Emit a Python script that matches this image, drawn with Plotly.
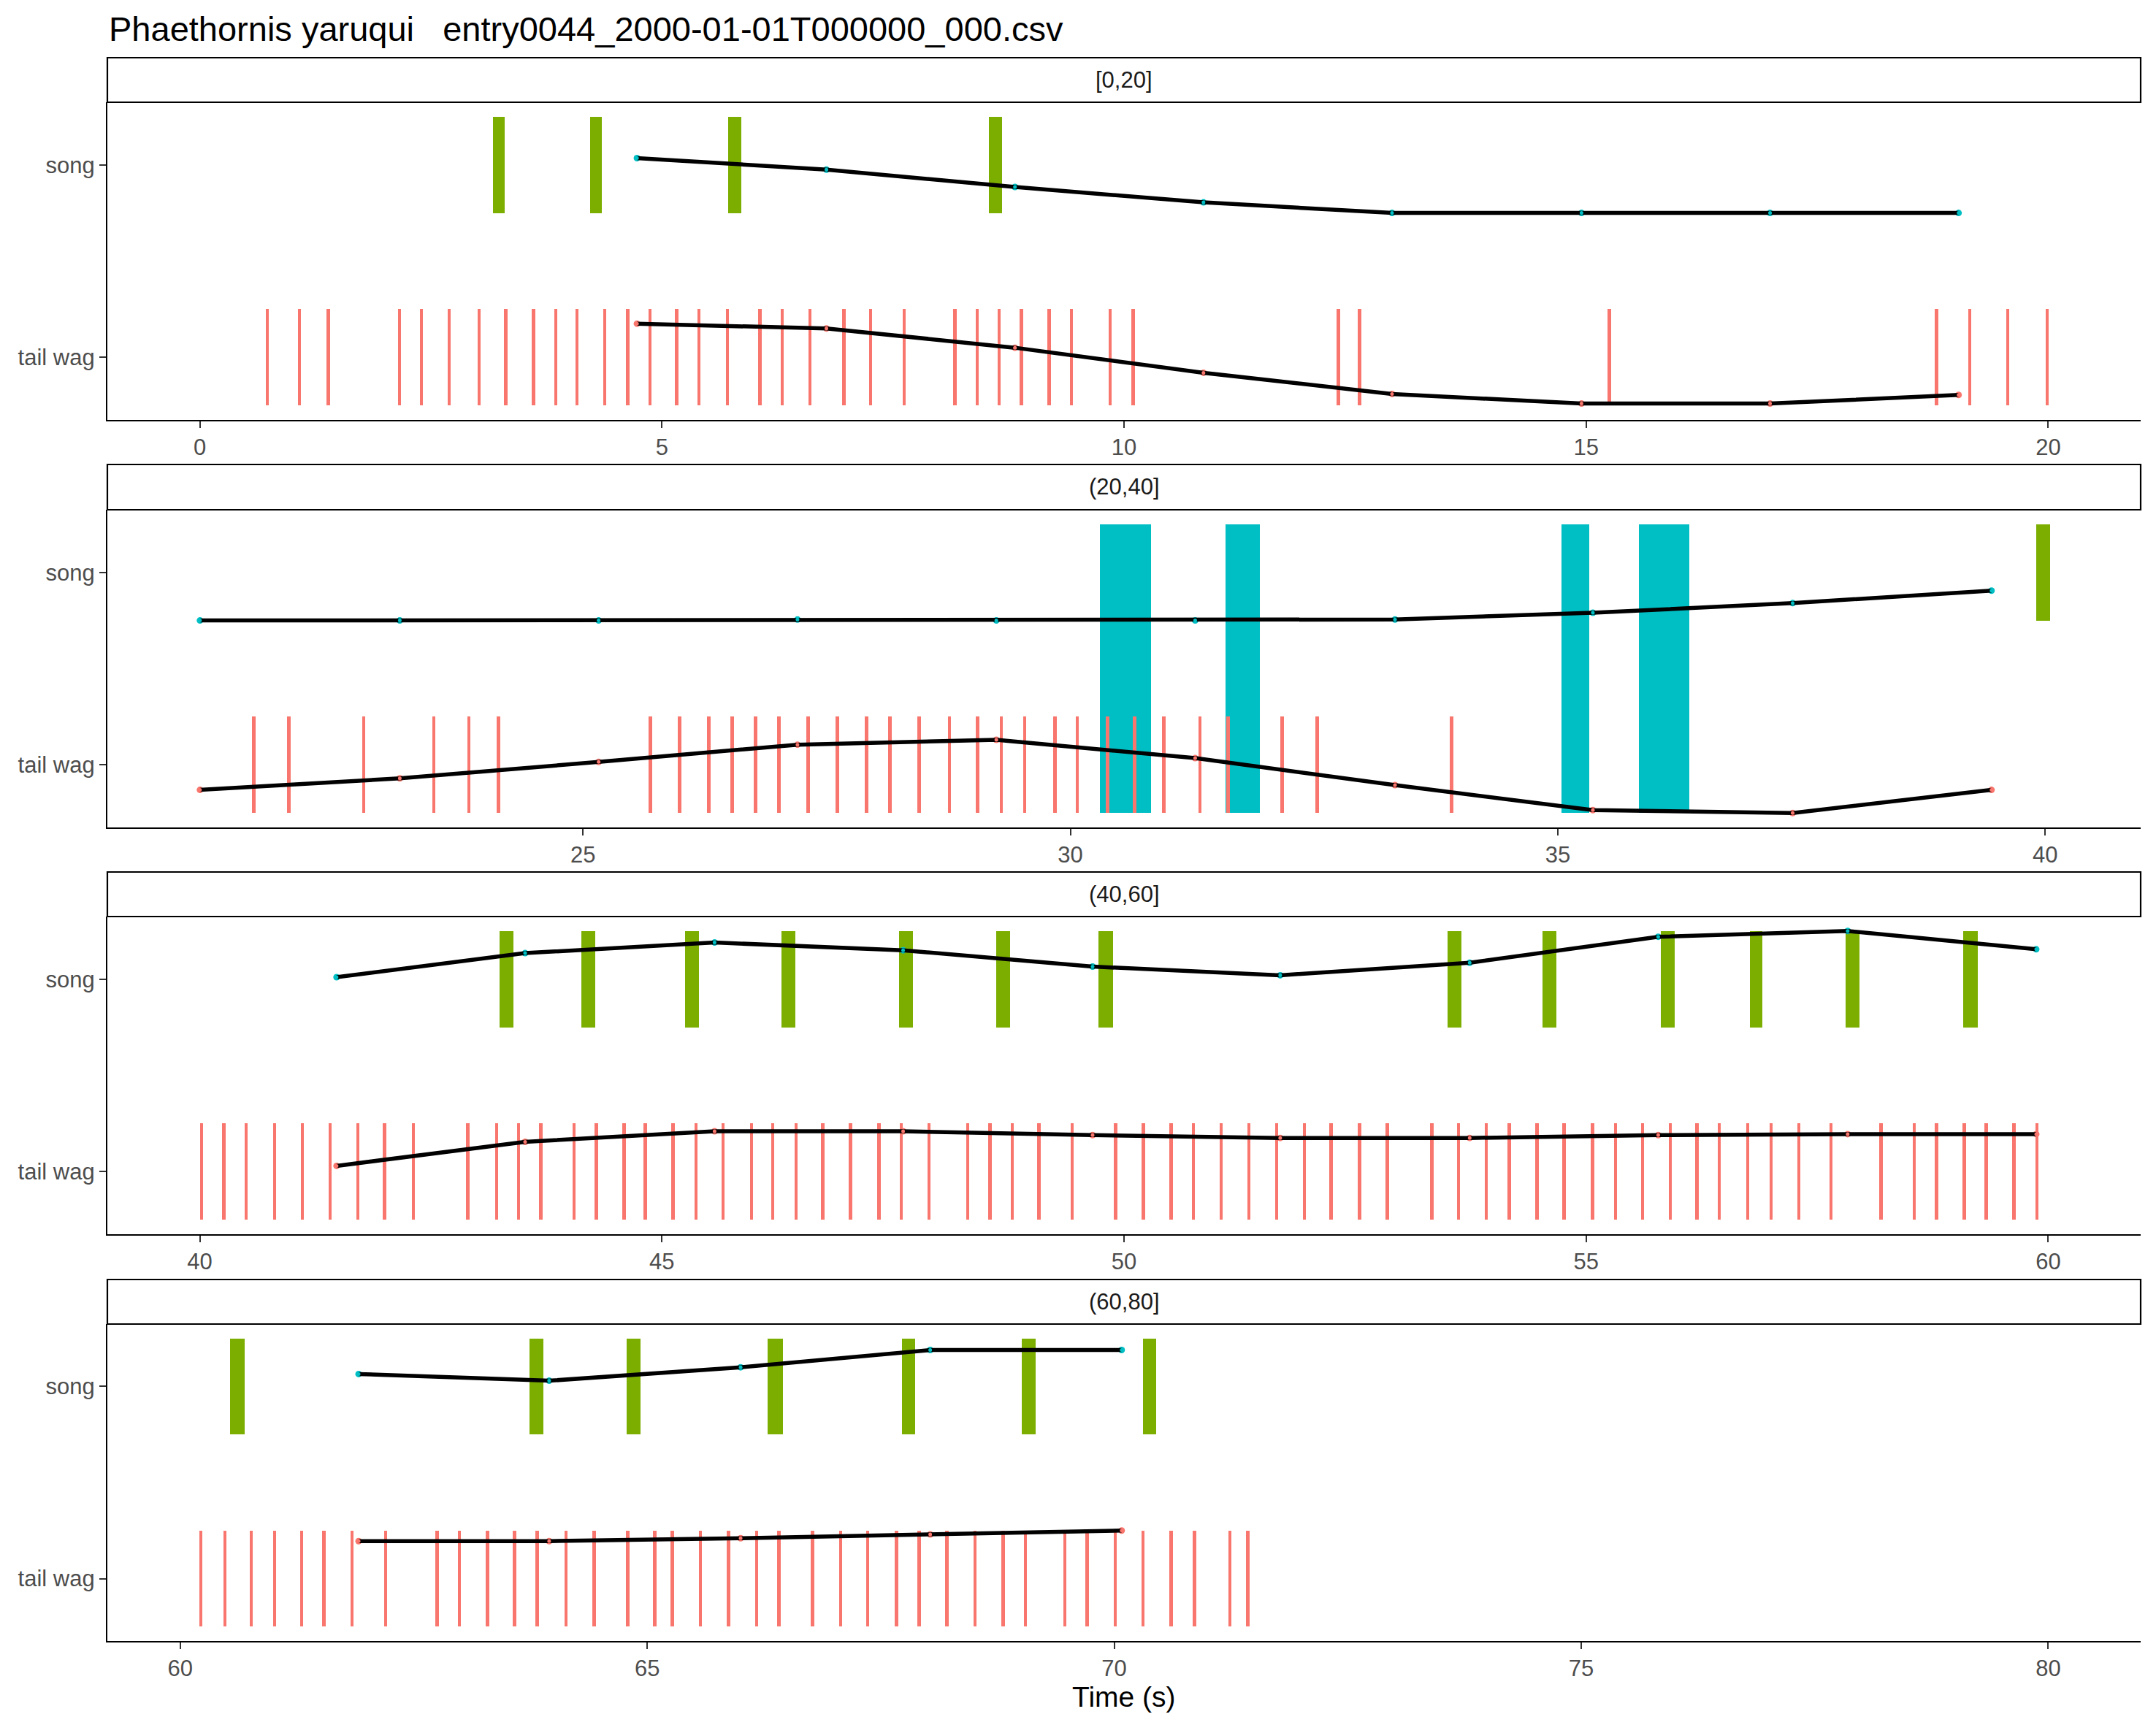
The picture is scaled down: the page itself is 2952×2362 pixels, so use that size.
import numpy as np
import plotly.graph_objects as go

# ---------------- data ----------------
title_text = "Phaethornis yaruqui\u00a0\u00a0\u00a0entry0044_2000-01-01T000000_000.csv"
panel_labels = ["[0,20]", "(20,40]", "(40,60]", "(60,80]"]
bin_edges = [0, 20, 40, 60, 80]
y_categories = ["tail wag", "song"]

# tail wag events (centre time, s)
tailwag_times = [
    0.73, 1.08, 1.39, 2.16, 2.40, 2.70, 3.02, 3.31, 3.61, 3.85, 4.08, 4.38, 4.63, 4.87,
    5.16, 5.40, 5.71, 6.06, 6.30, 6.60, 6.97, 7.26, 7.62, 8.17, 8.41, 8.65, 8.89, 9.19,
    9.43, 9.85, 10.10, 12.32, 12.55, 15.25, 18.79, 19.15, 19.56, 19.99,
    21.62, 21.98, 22.75, 23.47, 23.83, 24.13, 25.69, 25.99, 26.29, 26.53, 26.77, 27.01,
    27.31, 27.61, 27.91, 28.15, 28.45, 28.76, 29.05, 29.29, 29.53, 29.84, 30.07, 30.38,
    30.66, 30.96, 31.33, 31.62, 32.17, 32.53, 33.91,
    40.02, 40.26, 40.50, 40.81, 41.11, 41.41, 41.71, 42.00, 42.31, 42.90, 43.21, 43.45,
    43.69, 44.05, 44.29, 44.59, 44.82, 45.12, 45.37, 45.66, 45.97, 46.20, 46.45, 46.74,
    47.04, 47.35, 47.59, 47.89, 48.31, 48.55, 48.79, 49.08, 49.44, 49.91, 50.21, 50.51,
    50.75, 51.05, 51.35, 51.65, 51.95, 52.24, 52.55, 52.85, 53.33, 53.62, 53.92, 54.17,
    54.47, 54.76, 55.07, 55.32, 55.61, 55.91, 56.20, 56.44, 56.75, 57.00, 57.30, 57.65,
    58.19, 58.55, 58.79, 59.09, 59.33, 59.63, 59.88,
    60.22, 60.48, 60.76, 61.01, 61.30, 61.54, 61.84, 62.20, 62.75, 62.99, 63.29, 63.58,
    63.82, 64.13, 64.43, 64.79, 65.08, 65.27, 65.57, 65.87, 66.17, 66.41, 66.77, 67.07,
    67.36, 67.67, 67.91, 68.21, 68.51, 68.81, 69.05, 69.47, 69.71, 70.01, 70.31, 70.61,
    70.86, 71.24, 71.43,
]
tailwag_duration = 0.035

# song type A (green) start / end times
songA_start = [3.17, 4.22, 5.72, 8.54, 39.91,
               43.24, 44.13, 45.25, 46.29, 47.57, 48.62, 49.72, 53.50, 54.53, 55.81,
               56.77, 57.81, 59.08,
               60.53, 63.74, 64.78, 66.29, 67.73, 69.01, 70.31]
songA_end = [3.30, 4.35, 5.86, 8.68, 40.05,
             43.39, 44.28, 45.40, 46.44, 47.72, 48.77, 49.88, 53.65, 54.68, 55.96,
             56.91, 57.96, 59.24,
             60.69, 63.89, 64.93, 66.45, 67.87, 69.16, 70.45]

# song type B (cyan) start / end times
songB_start = [30.30, 31.59, 35.04, 35.83]
songB_end = [30.83, 31.94, 35.32, 36.35]

# rolling rates (0-1, drawn inside each row's band)
rate_times = [
    4.73, 6.78, 8.82, 10.86, 12.90, 14.95, 16.99, 19.03,
    21.07, 23.12, 25.16, 27.20, 29.24, 31.28, 33.33, 35.36, 37.41, 39.45,
    41.48, 43.52, 45.57, 47.61, 49.66, 51.69, 53.74, 55.78, 57.83, 59.87,
    61.91, 63.95, 66.00, 68.03, 70.08,
]
song_rate = [
    0.57, 0.45, 0.27, 0.11, 0.00, 0.00, 0.00, 0.00,
    0.00, 0.00, 0.00, 0.01, 0.00, 0.00, 0.01, 0.08, 0.18, 0.31,
    0.52, 0.77, 0.88, 0.80, 0.63, 0.54, 0.67, 0.94, 1.00, 0.81,
    0.63, 0.56, 0.70, 0.88, 0.88,
]
tailwag_rate = [
    0.85, 0.80, 0.60, 0.34, 0.12, 0.02, 0.02, 0.11,
    0.24, 0.36, 0.53, 0.71, 0.76, 0.57, 0.29, 0.03, 0.00, 0.24,
    0.56, 0.81, 0.92, 0.92, 0.88, 0.85, 0.85, 0.88, 0.89, 0.89,
    0.89, 0.89, 0.92, 0.96, 1.00,
]

# ---------------- styling / layout ----------------
W, H = 2952, 2362
RED, GREEN, CYAN = "#F8766D", "#7CAE00", "#00BFC4"
FONT = "Liberation Sans, Arial, sans-serif"
x_ranges = [[-1.0, 21.0], [20.12, 40.98], [39.0, 61.0], [59.22, 80.99]]
# pixel geometry (strip top, panel top, panel bottom)
panel_px = [(79, 140, 575), (636, 698, 1133), (1194, 1255, 1690), (1752, 1813, 2247)]
left_px, right_px = 147, 2931
Y_TAIL, Y_SONG, HALF = 1.0, 2.0, 0.25


def panel_of(t):
    for i in range(4):
        lo, hi = bin_edges[i], bin_edges[i + 1]
        if (i == 0 and lo <= t <= hi) or (lo < t <= hi):
            return i
    return None


def py(px):
    return 1 - px / H


fig = go.Figure()
shapes, annotations = [], []

tw = np.array(tailwag_times)
aS, aE = np.array(songA_start), np.array(songA_end)
bS, bE = np.array(songB_start), np.array(songB_end)
rt = np.array(rate_times)
sr, tr = np.array(song_rate), np.array(tailwag_rate)

for i in range(4):
    xa = "x" if i == 0 else f"x{i+1}"
    ya = "y" if i == 0 else f"y{i+1}"
    sfx = "" if i == 0 else str(i + 1)

    # rate lines (bottom layer)
    m = np.array([panel_of(t) == i for t in rt])
    for rate, base, col in [(sr, Y_SONG, CYAN), (tr, Y_TAIL, RED)]:
        yy = base - HALF + 2 * HALF * rate[m]
        fig.add_trace(go.Scatter(x=rt[m], y=yy, mode="markers", marker=dict(color=col, size=9),
                                 xaxis=xa, yaxis=ya, showlegend=False, hoverinfo="skip"))
        fig.add_trace(go.Scatter(x=rt[m], y=yy, mode="lines", line=dict(color="black", width=5.5),
                                 xaxis=xa, yaxis=ya, showlegend=False, hoverinfo="skip"))
        fig.add_trace(go.Scatter(x=rt[m], y=yy, mode="markers", marker=dict(color=col, size=5),
                                 xaxis=xa, yaxis=ya, showlegend=False, hoverinfo="skip"))

    # song type B (cyan) spanning both rows
    mb = np.array([panel_of((s + e) / 2) == i for s, e in zip(bS, bE)])
    if mb.any():
        fig.add_trace(go.Bar(x=(bS[mb] + bE[mb]) / 2, width=bE[mb] - bS[mb],
                             y=[(Y_SONG + HALF) - (Y_TAIL - HALF)] * int(mb.sum()),
                             base=[Y_TAIL - HALF] * int(mb.sum()),
                             marker=dict(color=CYAN, line=dict(width=0)),
                             xaxis=xa, yaxis=ya, showlegend=False, hoverinfo="skip"))
    # song type A (green)
    ma = np.array([panel_of((s + e) / 2) == i for s, e in zip(aS, aE)])
    if ma.any():
        fig.add_trace(go.Bar(x=(aS[ma] + aE[ma]) / 2, width=aE[ma] - aS[ma],
                             y=[2 * HALF] * int(ma.sum()), base=[Y_SONG - HALF] * int(ma.sum()),
                             marker=dict(color=GREEN, line=dict(width=0)),
                             xaxis=xa, yaxis=ya, showlegend=False, hoverinfo="skip"))
    # tail wags (top layer)
    mt = np.array([panel_of(t) == i for t in tw])
    n = int(mt.sum())
    fig.add_trace(go.Bar(x=tw[mt], width=[tailwag_duration] * n,
                         y=[2 * HALF] * n, base=[Y_TAIL - HALF] * n,
                         marker=dict(color=RED, line=dict(width=0)),
                         xaxis=xa, yaxis=ya, showlegend=False, hoverinfo="skip"))

    st, pt, pb = panel_px[i]
    axis_common = dict(showline=True, linecolor="black", linewidth=2.2, ticks="outside",
                       ticklen=9, tickwidth=2, tickcolor="#333333", showgrid=False,
                       zeroline=False, tickfont=dict(family=FONT, size=31, color="#4D4D4D"))
    fig.update_layout(**{
        f"xaxis{sfx}": dict(domain=[left_px / W, right_px / W], anchor=ya, range=x_ranges[i],
                            tickmode="linear", tick0=0, dtick=5, **axis_common),
        f"yaxis{sfx}": dict(domain=[py(pb), py(pt)], anchor=xa, range=[0.675, 2.325],
                            tickmode="array", tickvals=[Y_TAIL, Y_SONG], ticktext=y_categories,
                            **axis_common),
    })
    shapes.append(dict(type="rect", xref="paper", yref="paper", x0=left_px / W, x1=right_px / W,
                       y0=py(pt), y1=py(st), line=dict(color="black", width=2.2),
                       fillcolor="white", layer="above"))
    annotations.append(dict(text=panel_labels[i], xref="paper", yref="paper",
                            x=(left_px + right_px) / 2 / W, y=py((st + pt) / 2),
                            xanchor="center", yanchor="middle", showarrow=False,
                            font=dict(family=FONT, size=31, color="#1A1A1A")))

annotations.append(dict(text=title_text, xref="paper", yref="paper", x=left_px / W, y=py(40),
                        xanchor="left", yanchor="middle", showarrow=False,
                        font=dict(family=FONT, size=47, color="black")))
annotations.append(dict(text="Time (s)", xref="paper", yref="paper", x=(left_px + right_px) / 2 / W,
                        y=py(2323), xanchor="center", yanchor="middle", showarrow=False,
                        font=dict(family=FONT, size=39, color="black")))

fig.update_layout(width=W, height=H, margin=dict(l=0, r=0, t=0, b=0),
                  paper_bgcolor="white", plot_bgcolor="white", barmode="overlay",
                  bargap=0, shapes=shapes, annotations=annotations, showlegend=False)

fig.write_html("out.html")
